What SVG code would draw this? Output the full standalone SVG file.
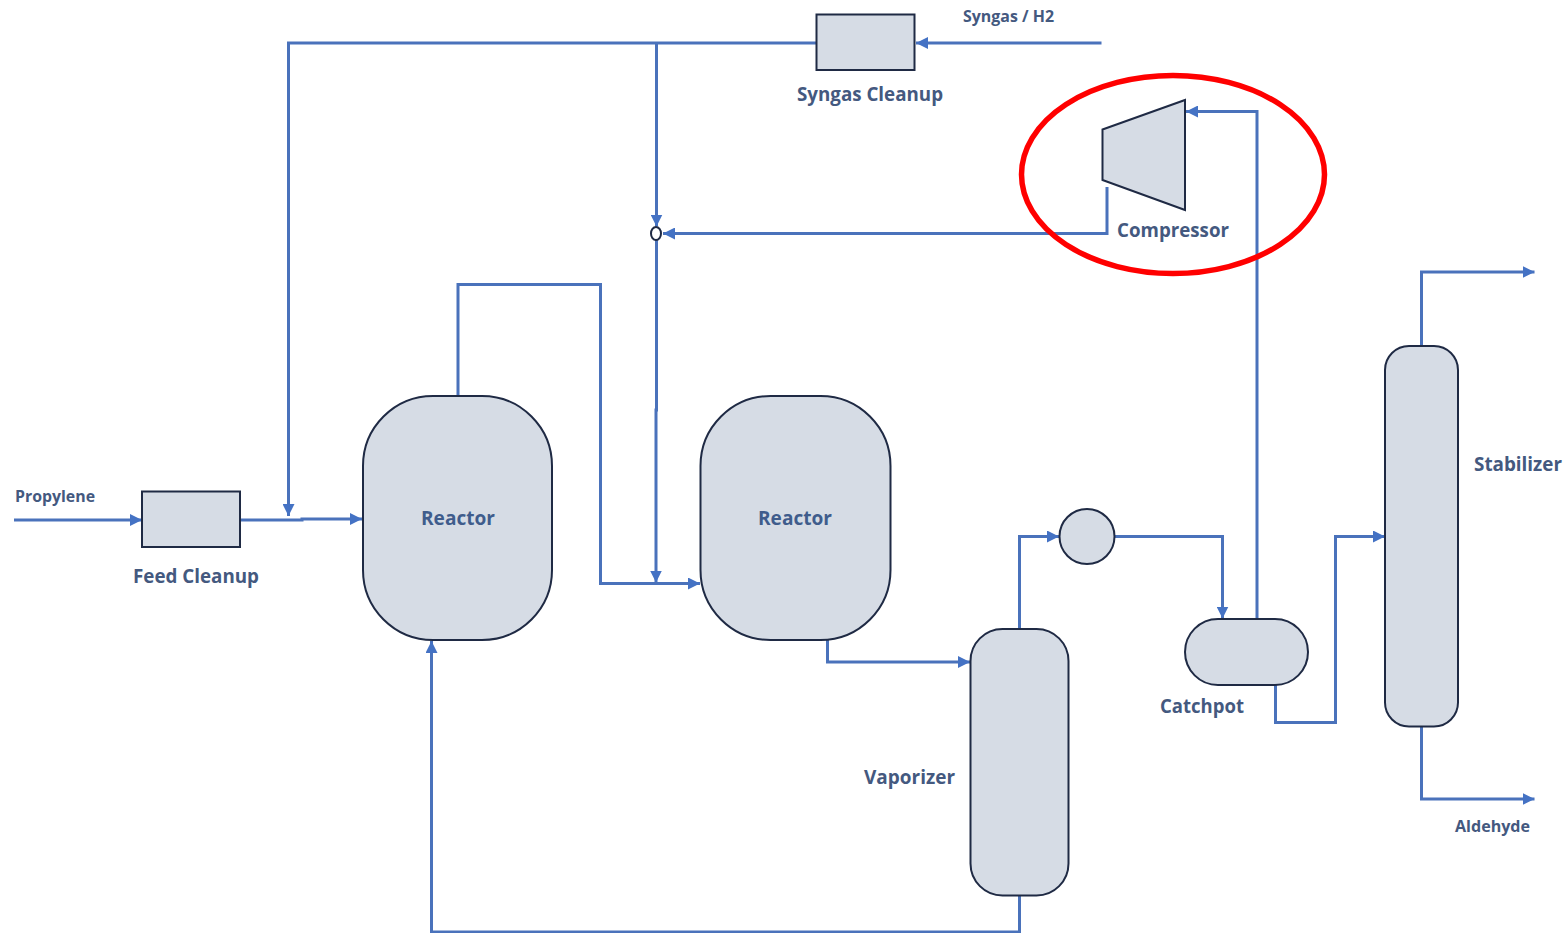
<svg xmlns="http://www.w3.org/2000/svg" width="1568" height="933" viewBox="0 0 1568 933">
<style>
.n{fill:#d6dce5;stroke:#1f2a44;stroke-width:2}
.c{fill:none;stroke:#4a72bb;stroke-width:3}
.t{font-family:"Open Sans","Liberation Sans",sans-serif;font-weight:700;fill:#44597f;font-size:20px}
.s{font-size:16px}
.r{font-size:20px;fill:#3f5c8c}
</style>
<defs>
<marker id="a" markerUnits="userSpaceOnUse" markerWidth="13" markerHeight="12" refX="12" refY="6" orient="auto"><path d="M0 0L12 6L0 12Z" fill="#4472c4"/></marker>
</defs>
<rect width="1568" height="933" fill="#fff"/>
<g id="connectors">
<path class="c" d="M1101.500 43H916" marker-end="url(#a)"/>
<path class="c" d="M816 43H288.500V516" marker-end="url(#a)"/>
<path class="c" d="M656.500 43V226.500" marker-end="url(#a)"/>
<path class="c" d="M1107 187V233.500H663" marker-end="url(#a)"/>
<path class="c" d="M656.500 240V410L656 410V582.500" marker-end="url(#a)"/>
<path class="c" d="M14 520H142" marker-end="url(#a)"/>
<path class="c" d="M240 520H302V519H362" marker-end="url(#a)"/>
<path class="c" d="M458 396V284.500H600.500V583.500H700" marker-end="url(#a)"/>
<path class="c" d="M827.500 640V662H970" marker-end="url(#a)"/>
<path class="c" d="M1019.500 629V536.500H1059" marker-end="url(#a)"/>
<path class="c" d="M1115 536.500H1222.500V618.500" marker-end="url(#a)"/>
<path class="c" d="M1257 619V111.500H1186" marker-end="url(#a)"/>
<path class="c" d="M1275.500 685V722.500H1335.500V536.500H1385" marker-end="url(#a)"/>
<path class="c" d="M1421.500 346V272H1534.500" marker-end="url(#a)"/>
<path class="c" d="M1421.500 726V799H1534.500" marker-end="url(#a)"/>
<path class="c" d="M1019.500 895V932H431.500V641" marker-end="url(#a)"/>
</g>
<g id="syngas-cleanup"><rect class="n" x="816.500" y="14.500" width="98" height="55.500"/><text class="t" x="797" y="101" textLength="146" lengthAdjust="spacingAndGlyphs">Syngas Cleanup</text></g>
<g id="syngas-feed-label"><text class="t s" x="963" y="22" textLength="91" lengthAdjust="spacingAndGlyphs">Syngas / H2</text></g>
<g id="compressor"><path class="n" d="M1102.500 129.500L1185 100V210L1102.500 180Z"/><text class="t" x="1117" y="237" textLength="112" lengthAdjust="spacingAndGlyphs">Compressor</text></g>
<g id="mixer"><ellipse cx="656" cy="233.500" rx="5" ry="6.500" fill="#fff" stroke="#1f2a44" stroke-width="2"/></g>
<g id="propylene-label"><text class="t s" x="15" y="502" textLength="80" lengthAdjust="spacingAndGlyphs">Propylene</text></g>
<g id="feed-cleanup"><rect class="n" x="142" y="491.500" width="98" height="55.500"/><text class="t" x="133" y="583" textLength="126" lengthAdjust="spacingAndGlyphs">Feed Cleanup</text></g>
<g id="reactor-1"><rect class="n" x="363" y="396" width="189" height="244" rx="70" ry="70"/><text class="t r" x="421" y="525" textLength="74" lengthAdjust="spacingAndGlyphs">Reactor</text></g>
<g id="reactor-2"><rect class="n" x="700.500" y="396" width="190" height="244" rx="70" ry="70"/><text class="t r" x="758" y="525" textLength="74" lengthAdjust="spacingAndGlyphs">Reactor</text></g>
<g id="vaporizer"><rect class="n" x="970.500" y="629" width="98" height="266.500" rx="32" ry="32"/><text class="t" x="864" y="784" textLength="91" lengthAdjust="spacingAndGlyphs">Vaporizer</text></g>
<g id="exchanger"><circle class="n" cx="1087" cy="536.500" r="27.500"/></g>
<g id="catchpot"><rect class="n" x="1185" y="619" width="123" height="66" rx="33" ry="33"/><text class="t" x="1160" y="713" textLength="84" lengthAdjust="spacingAndGlyphs">Catchpot</text></g>
<g id="stabilizer"><rect class="n" x="1385" y="346" width="73" height="380.500" rx="24" ry="24"/><text class="t" x="1474" y="471" textLength="88" lengthAdjust="spacingAndGlyphs">Stabilizer</text></g>
<g id="aldehyde-label"><text class="t s" x="1455" y="832" textLength="75" lengthAdjust="spacingAndGlyphs">Aldehyde</text></g>
<g id="highlight"><ellipse cx="1173" cy="174.500" rx="151.500" ry="99" fill="none" stroke="#f00" stroke-width="5.500"/></g>
</svg>
